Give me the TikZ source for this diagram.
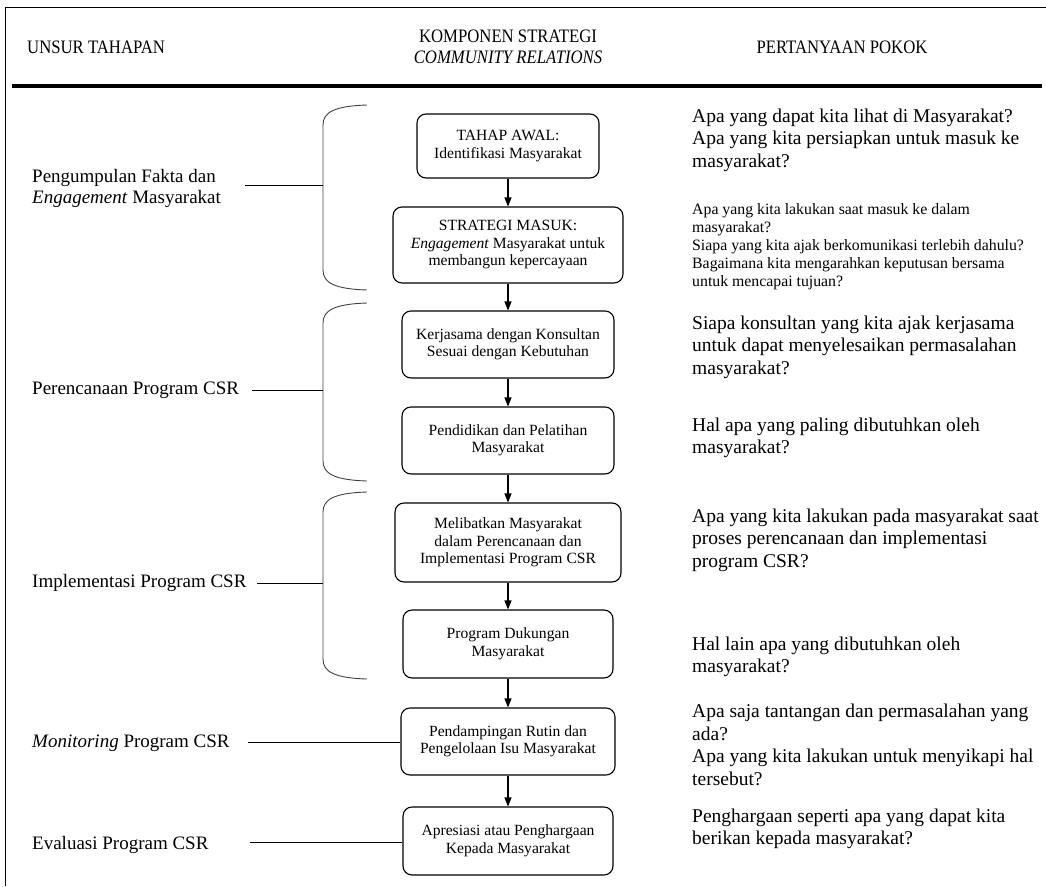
\documentclass[tikz,border=0pt]{standalone}
\usepackage{fontspec}
\setmainfont{Liberation Serif}
\usetikzlibrary{arrows.meta}
\tikzset{
  stepbox/.style={draw, rounded corners=9pt, line width=1.1pt, align=center, inner sep=2pt, font=\fontsize{15.6}{17.5}\selectfont},
  ask/.style={anchor=west, align=left, inner sep=0pt, font=\fontsize{19.5}{22.5}\selectfont},
  asksmall/.style={anchor=west, align=left, inner sep=0pt, font=\fontsize{15.8}{18}\selectfont},
  unsur/.style={anchor=west, align=left, inner sep=0pt, font=\fontsize{19}{21}\selectfont},
  head/.style={align=center, inner sep=0pt, font=\fontsize{19}{21.5}\selectfont},
  flow/.style={-{Triangle[length=9pt,width=7pt]}, line width=1.1pt},
  link/.style={line width=0.9pt},
  bracket/.style={line width=0.9pt, black!75}
}
\newcommand{\sempit}[1]{\scalebox{0.88}[1]{#1}}
\begin{document}
\begin{tikzpicture}[x=1pt, y=-1pt]
\useasboundingbox (0,0) rectangle (1046,886);
% frame and header
\draw[line width=0.9pt] (1046,7) -- (5,7) -- (5,886);
\draw[line width=3.5pt] (12,86) -- (1042,86);
\node[head, anchor=west] (hunsur) at (27,47) {\sempit{UNSUR TAHAPAN}};
\node[head] (hkomp) at (508,47) {\sempit{KOMPONEN STRATEGI}\\ \sempit{\textit{COMMUNITY RELATIONS}}};
\node[head] (htanya) at (842,47) {\sempit{PERTANYAAN POKOK}};

% strategy steps
\node[stepbox, minimum width=182pt, minimum height=64pt] (awal) at (508,146) {TAHAP AWAL:\\ Identifikasi Masyarakat};
\node[stepbox, minimum width=230pt, minimum height=76pt] (masuk) at (508,245) {STRATEGI MASUK:\\ \textit{Engagement} Masyarakat untuk\\ membangun kepercayaan};
\node[stepbox, minimum width=212pt, minimum height=67pt] (konsultan) at (508,344.5) {Kerjasama dengan Konsultan\\ Sesuai dengan Kebutuhan};
\node[stepbox, minimum width=212pt, minimum height=67pt] (didik) at (508,440.5) {Pendidikan dan Pelatihan\\ Masyarakat};
\node[stepbox, minimum width=226pt, minimum height=79pt] (libat) at (508,542.5) {Melibatkan Masyarakat\\ dalam Perencanaan dan\\ Implementasi Program CSR};
\node[stepbox, minimum width=210pt, minimum height=68pt] (dukung) at (508,644) {Program Dukungan\\ Masyarakat};
\node[stepbox, minimum width=214pt, minimum height=67pt] (damping) at (508,741.5) {Pendampingan Rutin dan\\ Pengelolaan Isu Masyarakat};
\node[stepbox, minimum width=210pt, minimum height=68pt] (apresiasi) at (508,841) {Apresiasi atau Penghargaan\\ Kepada Masyarakat};
\draw[flow] (awal) -- (masuk);
\draw[flow] (masuk) -- (konsultan);
\draw[flow] (konsultan) -- (didik);
\draw[flow] (didik) -- (libat);
\draw[flow] (libat) -- (dukung);
\draw[flow] (dukung) -- (damping);
\draw[flow] (damping) -- (apresiasi);

% unsur tahapan
\node[unsur] (fakta) at (32,188) {Pengumpulan Fakta dan\\ \textit{Engagement} Masyarakat};
\node[unsur] (rencana) at (32,390) {Perencanaan Program CSR};
\node[unsur] (implementasi) at (32,583) {Implementasi Program CSR};
\node[unsur] (monitoring) at (32,743) {\textit{Monitoring} Program CSR};
\node[unsur] (evaluasi) at (32,845) {Evaluasi Program CSR};

% brackets
\draw[bracket] (367,105) .. controls (335,106) and (323,112) .. (323,125) -- (323,270) .. controls (323,283) and (335,289) .. (367,290);
\draw[bracket] (367,303) .. controls (335,304) and (323,310) .. (323,323) -- (323,461) .. controls (323,474) and (335,480) .. (367,481);
\draw[bracket] (367,492) .. controls (335,493) and (323,499) .. (323,512) -- (323,659) .. controls (323,672) and (335,678) .. (367,679);
\coordinate (kfakta) at (323,185);
\coordinate (krencana) at (323,390);
\coordinate (kimpl) at (323,583);
\coordinate (sfakta) at (245,185);
\coordinate (srencana) at (252,390);
\coordinate (simpl) at (257,583);
\coordinate (smon) at (248,742);
\coordinate (seval) at (250,842);
\draw[link] (sfakta) -- (kfakta);
\draw[link] (srencana) -- (krencana);
\draw[link] (simpl) -- (kimpl);
\draw[link] (smon) -- (damping.west |- smon);
\draw[link] (seval) -- (apresiasi.west |- seval);

% pertanyaan pokok
\node[ask] (q1) at (692,140) {Apa yang dapat kita lihat di Masyarakat?\\ Apa yang kita persiapkan untuk masuk ke\\ masyarakat?};
\node[asksmall] (q2) at (692,247) {Apa yang kita lakukan saat masuk ke dalam\\ masyarakat?\\ Siapa yang kita ajak berkomunikasi terlebih dahulu?\\ Bagaimana kita mengarahkan keputusan bersama\\ untuk mencapai tujuan?};
\node[ask] (q3) at (692,347) {Siapa konsultan yang kita ajak kerjasama\\ untuk dapat menyelesaikan permasalahan\\ masyarakat?};
\node[ask] (q4) at (692,438) {Hal apa yang paling dibutuhkan oleh\\ masyarakat?};
\node[ask] (q5) at (692,540) {Apa yang kita lakukan pada masyarakat saat\\ proses perencanaan dan implementasi\\ program CSR?};
\node[ask] (q6) at (692,657) {Hal lain apa yang dibutuhkan oleh\\ masyarakat?};
\node[ask] (q7) at (692,745) {Apa saja tantangan dan permasalahan yang\\ ada?\\ Apa yang kita lakukan untuk menyikapi hal\\ tersebut?};
\node[ask] (q8) at (692,829) {Penghargaan seperti apa yang dapat kita\\ berikan kepada masyarakat?};
\end{tikzpicture}
\end{document}
